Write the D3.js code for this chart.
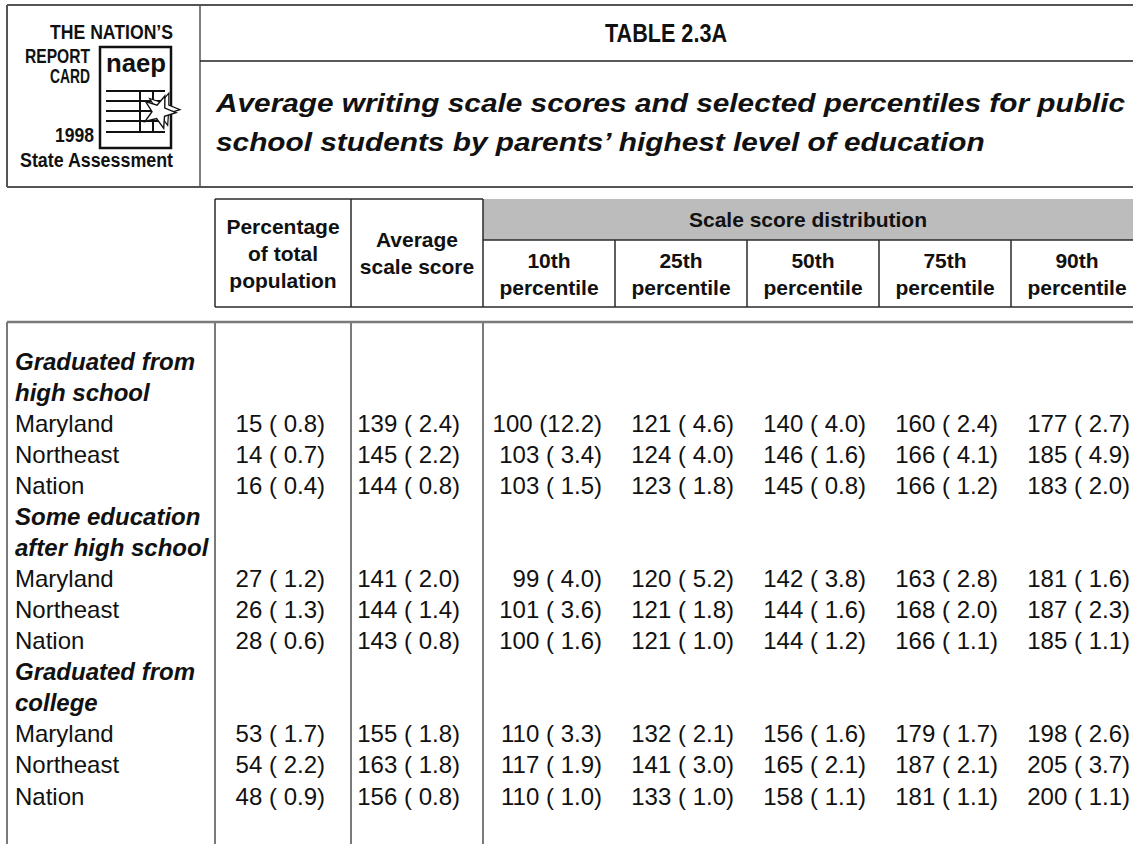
<!DOCTYPE html>
<html>
<head>
<meta charset="utf-8">
<script src="https://cdn.jsdelivr.net/npm/d3@7"></script>
<style>
  html, body { margin: 0; padding: 0; background: #fff; }
  svg { display: block; }
  text { white-space: pre; }
</style>
</head>
<body>
<svg id="chart" width="1133" height="844"></svg>
<script>
// ---- data ----
const groupLabels = [
  ["Graduated from", "high school"],
  ["Some education", "after high school"],
  ["Graduated from", "college"]
];
const jurisdictions = ["Maryland", "Northeast", "Nation"];
const pctPopulation = [15, 14, 16, 27, 26, 28, 53, 54, 48];
const pctPopulationSE = [0.8, 0.7, 0.4, 1.2, 1.3, 0.6, 1.7, 2.2, 0.9];
const avgScore = [139, 145, 144, 141, 144, 143, 155, 163, 156];
const avgScoreSE = [2.4, 2.2, 0.8, 2.0, 1.4, 0.8, 1.8, 1.8, 0.8];
const percentiles = ["10th", "25th", "50th", "75th", "90th"];
const pctScores = [
  [100, 121, 140, 160, 177],
  [103, 124, 146, 166, 185],
  [103, 123, 145, 166, 183],
  [99, 120, 142, 163, 181],
  [101, 121, 144, 168, 187],
  [100, 121, 144, 166, 185],
  [110, 132, 156, 179, 198],
  [117, 141, 165, 187, 205],
  [110, 133, 158, 181, 200]
];
const pctScoresSE = [
  [12.2, 4.6, 4.0, 2.4, 2.7],
  [3.4, 4.0, 1.6, 4.1, 4.9],
  [1.5, 1.8, 0.8, 1.2, 2.0],
  [4.0, 5.2, 3.8, 2.8, 1.6],
  [3.6, 1.8, 1.6, 2.0, 2.3],
  [1.6, 1.0, 1.2, 1.1, 1.1],
  [3.3, 2.1, 1.6, 1.7, 2.6],
  [1.9, 3.0, 2.1, 2.1, 3.7],
  [1.0, 1.0, 1.1, 1.1, 1.1]
];
const titleText = "TABLE 2.3A";
const subtitleLines = [
  "Average writing scale scores and selected percentiles for public",
  "school students by parents\u2019 highest level of education"
];

// ---- layout ----
const W = 1133, H = 844;
const SANS = "'Liberation Sans', Arial, Helvetica, sans-serif";
const NARROW = "'Liberation Sans Narrow', 'Arial Narrow', 'Liberation Sans', Arial, sans-serif";
const DATA_FS = 24;
const HEAD_FS = 21;

const svg = d3.select("#chart");

const fmt = (v, se) => v + " (" + (se < 10 ? " " : "") + se.toFixed(1) + ")";

// column positions
const COL_LABEL = 15;
const COL_PCT = [215, 351];
const COL_AVG = [351, 483];
const x = d3.scaleBand().domain(percentiles).range([483, 483 + 132 * 5]).paddingInner(0);

// 15 text lines in body: 2 group-label lines + 3 rows per group
const y = d3.scaleLinear().domain([0, 14]).range([361, 796]);

// squeeze a selection horizontally so the first node is `w` wide (condensed look)
function condense(sel, w) {
  const k = w / sel.node().getComputedTextLength();
  sel.each(function () {
    const len = this.getComputedTextLength();
    d3.select(this).attr("textLength", len * k).attr("lengthAdjust", "spacingAndGlyphs");
  });
}

// ---- top banner ----
const banner = svg.append("g");
banner.append("line").attr("x1", 7).attr("y1", 5).attr("x2", W).attr("y2", 5)
  .attr("stroke", "#555").attr("stroke-width", 2);
banner.append("line").attr("x1", 7).attr("y1", 187).attr("x2", W).attr("y2", 187)
  .attr("stroke", "#555").attr("stroke-width", 2);
banner.append("line").attr("x1", 7).attr("y1", 5).attr("x2", 7).attr("y2", 187)
  .attr("stroke", "#555").attr("stroke-width", 2);
banner.append("line").attr("x1", 200).attr("y1", 5).attr("x2", 200).attr("y2", 187)
  .attr("stroke", "#555").attr("stroke-width", 1.5);
banner.append("line").attr("x1", 200).attr("y1", 61).attr("x2", W).attr("y2", 61)
  .attr("stroke", "#222").attr("stroke-width", 1.5);

// logo
const logo = banner.append("g");
const logoText = [
  { t: "THE NATION\u2019S", x: 50, y: 39, w: 123 },
  { t: "REPORT", x: 25, y: 63, w: 65 },
  { t: "CARD", x: 50, y: 83, w: 40 },
  { t: "1998", x: 55, y: 142, w: 39 },
  { t: "State Assessment", x: 20, y: 167, w: 153 }
];
logo.selectAll("text.logo").data(logoText).join("text")
  .attr("class", "logo")
  .attr("x", d => d.x).attr("y", d => d.y)
  .attr("textLength", d => d.w).attr("lengthAdjust", "spacingAndGlyphs")
  .attr("font-family", NARROW).attr("font-weight", "bold").attr("font-size", 19.5)
  .attr("fill", "#111")
  .text(d => d.t);

logo.append("rect").attr("x", 100).attr("y", 47).attr("width", 71).attr("height", 101)
  .attr("fill", "#fff").attr("stroke", "#111").attr("stroke-width", 2.5);
logo.append("text").attr("x", 106).attr("y", 72)
  .attr("textLength", 60).attr("lengthAdjust", "spacingAndGlyphs")
  .attr("font-family", NARROW).attr("font-weight", "bold").attr("font-size", 25)
  .attr("fill", "#111").text("naep");
[91, 101, 111, 121, 132].forEach(ly => {
  logo.append("line").attr("x1", 106).attr("x2", 165).attr("y1", ly).attr("y2", ly)
    .attr("stroke", "#111").attr("stroke-width", 2);
});
[140, 153].forEach(lx => {
  logo.append("line").attr("x1", lx).attr("x2", lx).attr("y1", 91).attr("y2", 132)
    .attr("stroke", "#111").attr("stroke-width", 2);
});
function starPoints(cx, cy, ro, ri, rot) {
  const pts = [];
  for (let i = 0; i < 10; i++) {
    const r = i % 2 === 0 ? ro : ri;
    const a = rot + i * Math.PI / 5;
    pts.push([cx + r * Math.sin(a), cy - r * Math.cos(a)]);
  }
  return pts;
}
const starLine = d3.line().curve(d3.curveLinearClosed);
logo.append("path").attr("d", starLine(starPoints(163, 109, 17, 7, 0.35)))
  .attr("fill", "#fff").attr("stroke", "#111").attr("stroke-width", 1.2);
logo.append("path").attr("d", starLine(starPoints(159, 112, 17, 7, 0.35)))
  .attr("fill", "#fff").attr("stroke", "#111").attr("stroke-width", 1.4);

// title
const title = banner.append("text").attr("x", 666).attr("y", 42).attr("text-anchor", "middle")
  .attr("font-family", NARROW).attr("font-weight", "bold").attr("font-size", 25)
  .attr("fill", "#111").text(titleText);
condense(title, 122);

// subtitle, condensed so the first line spans the same width as the original
const sub = banner.selectAll("text.sub").data(subtitleLines).join("text")
  .attr("class", "sub")
  .attr("x", 216).attr("y", (d, i) => 112 + i * 39)
  .attr("font-family", NARROW).attr("font-weight", "bold").attr("font-style", "italic")
  .attr("font-size", 26).attr("fill", "#111")
  .text(d => d);
condense(sub, 909);

// ---- column header ----
const head = svg.append("g");
head.append("rect").attr("x", 483).attr("y", 199).attr("width", W - 483).attr("height", 41)
  .attr("fill", "#bcbcbc");
const dark = "#2a2a2a";
const hl = (x1, y1, x2, y2) => head.append("line")
  .attr("x1", x1).attr("y1", y1).attr("x2", x2).attr("y2", y2)
  .attr("stroke", dark).attr("stroke-width", 1.5);
hl(215, 199, 483, 199);
hl(215, 199, 215, 307);
hl(351, 199, 351, 307);
hl(483, 199, 483, 307);
hl(483, 240, W, 240);
hl(215, 307, W, 307);
percentiles.slice(1).forEach(p => hl(x(p), 240, x(p), 307));

const headText = (lines, cx, cy) => {
  const pitch = 27;
  lines.forEach((t, i) => {
    head.append("text")
      .attr("x", cx).attr("y", cy + (i - (lines.length - 1) / 2) * pitch + 7.5)
      .attr("text-anchor", "middle")
      .attr("font-family", SANS).attr("font-weight", "bold").attr("font-size", HEAD_FS)
      .attr("fill", "#111").text(t);
  });
};
headText(["Percentage", "of total", "population"], (COL_PCT[0] + COL_PCT[1]) / 2, 253);
headText(["Average", "scale score"], (COL_AVG[0] + COL_AVG[1]) / 2, 253);
headText(["Scale score distribution"], (483 + W) / 2, 219.5);
percentiles.forEach(p => headText([p, "percentile"], x(p) + x.bandwidth() / 2, 274));

// ---- body ----
const body = svg.append("g");
const grey = "#7a7a7a";
body.append("line").attr("x1", 7).attr("y1", 322).attr("x2", W).attr("y2", 322)
  .attr("stroke", grey).attr("stroke-width", 2.5);
[7, 215, 351, 483].forEach(vx => {
  body.append("line").attr("x1", vx).attr("x2", vx).attr("y1", 322).attr("y2", H)
    .attr("stroke", grey).attr("stroke-width", 2);
});

const BASE = 8.5;
groupLabels.forEach((lines, g) => {
  lines.forEach((t, i) => {
    body.append("text").attr("x", COL_LABEL).attr("y", y(g * 5 + i) + BASE)
      .attr("font-family", SANS).attr("font-weight", "bold").attr("font-style", "italic")
      .attr("font-size", DATA_FS).attr("fill", "#111").text(t);
  });
});

const rows = d3.range(pctPopulation.length).map(r => ({
  r,
  line: Math.floor(r / 3) * 5 + 2 + (r % 3),
  name: jurisdictions[r % 3]
}));

const rowG = body.selectAll("g.row").data(rows).join("g")
  .attr("class", "row")
  .attr("transform", d => `translate(0,${y(d.line) + BASE})`)
  .attr("font-family", SANS).attr("font-size", DATA_FS).attr("fill", "#111");

rowG.append("text").attr("x", COL_LABEL).text(d => d.name);
rowG.append("text").attr("x", COL_PCT[1] - 26).attr("text-anchor", "end")
  .text(d => fmt(pctPopulation[d.r], pctPopulationSE[d.r]));
rowG.append("text").attr("x", COL_AVG[1] - 23).attr("text-anchor", "end")
  .text(d => fmt(avgScore[d.r], avgScoreSE[d.r]));
rowG.selectAll("text.pc").data(d => percentiles.map((p, j) => ({ p, v: pctScores[d.r][j], se: pctScoresSE[d.r][j] })))
  .join("text").attr("class", "pc")
  .attr("x", d => x(d.p) + x.bandwidth() - 13).attr("text-anchor", "end")
  .text(d => fmt(d.v, d.se));
</script>
</body>
</html>
